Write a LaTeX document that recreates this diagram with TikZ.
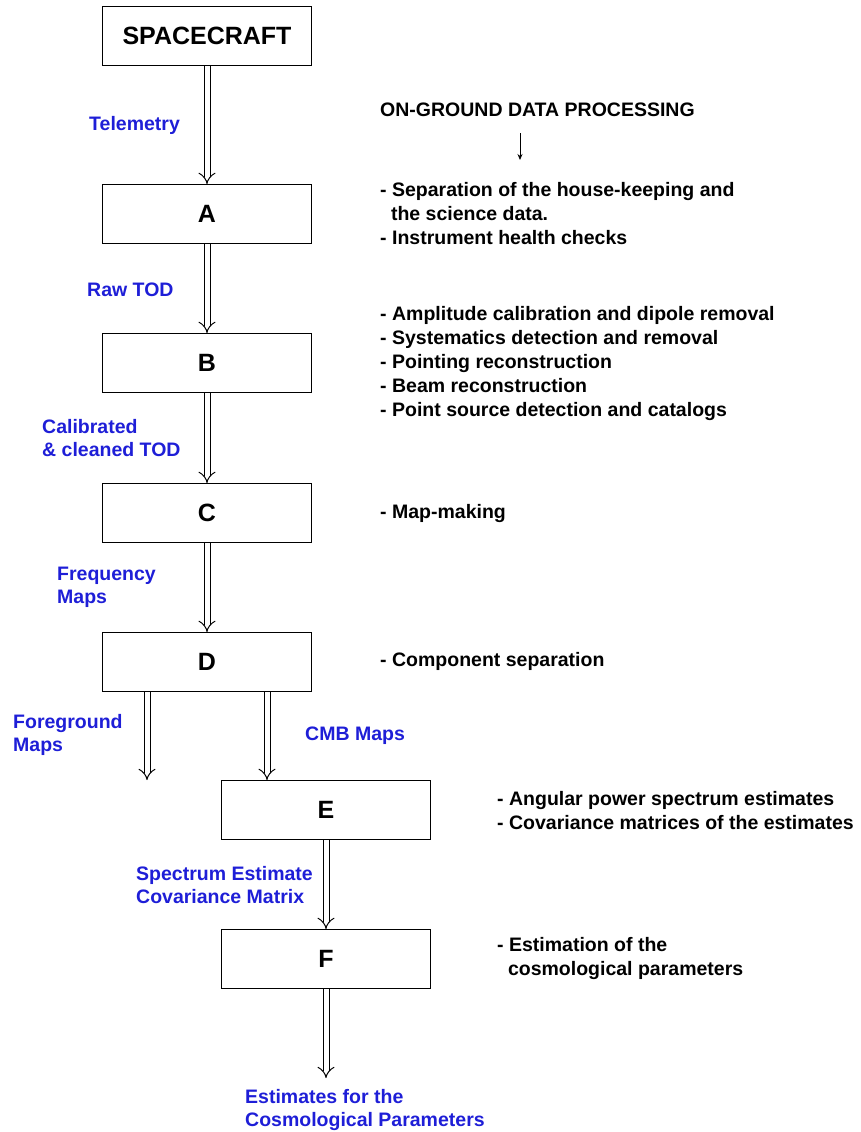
\documentclass[tikz,border=0pt]{standalone}
\usepackage{fontspec}
\setmainfont{Liberation Sans}
\usetikzlibrary{arrows.meta}
\definecolor{lblue}{RGB}{30,30,215}
\tikzset{
  stage/.style={draw, line width=1.1pt, minimum width=209pt, minimum height=59pt, font=\fontsize{25}{29}\selectfont\bfseries},
  flow/.style={draw=black, double=white, double distance=5pt, line width=1pt, -{Implies}},
  datalbl/.style={anchor=west, align=left, text=lblue, inner sep=0pt, font=\fontsize{19.5}{23}\selectfont\bfseries},
  procnote/.style={anchor=west, align=left, inner sep=0pt, font=\fontsize{19.5}{24}\selectfont\bfseries}
}
\begin{document}
\begin{tikzpicture}[x=1pt, y=-1pt]
  \useasboundingbox (0,0) rectangle (860,1132);
  % stages
  \node[stage] (sc) at (207,36) {SPACECRAFT};
  \node[stage] (a) at (207,214) {A};
  \node[stage] (b) at (207,363) {B};
  \node[stage] (c) at (207,513) {C};
  \node[stage] (d) at (207,662) {D};
  \node[stage] (e) at (326,810) {E};
  \node[stage] (f) at (326,959) {F};
  \coordinate (fgend) at (147,780);
  \coordinate (final) at (326,1078);
  % data flow
  \draw[flow] (sc) -- (a);
  \draw[flow] (a) -- (b);
  \draw[flow] (b) -- (c);
  \draw[flow] (c) -- (d);
  \draw[flow] ([xshift=-60pt]d.south) -- (fgend);
  \draw[flow] ([xshift=60pt]d.south) -- ([xshift=60pt]d.south |- e.north);
  \draw[flow] (e) -- (f);
  \draw[flow] (f) -- (final);
  \node[datalbl] (tel) at (89,125) {Telemetry};
  \node[datalbl] (raw) at (87,290) {Raw TOD};
  \node[datalbl] (cal) at (42,438) {Calibrated\\\& cleaned TOD};
  \node[datalbl] (freq) at (57,587) {Frequency\\Maps};
  \node[datalbl] (fg) at (13,735) {Foreground\\Maps};
  \node[datalbl] (cmb) at (305,736) {CMB Maps};
  \node[datalbl] (spec) at (136,885) {Spectrum Estimate\\Covariance Matrix};
  \node[datalbl] (est) at (245,1110) {Estimates for the\\Cosmological Parameters};
  % processing
  \node[procnote] (ground) at (380,110) {ON-GROUND DATA PROCESSING};
  \draw[-{Stealth[length=6pt,width=5pt]}, line width=0.8pt] (520,133) -- (520,160);
  \node[procnote] (pa) at (380,214) {- Separation of the house-keeping and\\\ \ the science data.\\- Instrument health checks};
  \node[procnote] (pb) at (380,363) {- Amplitude calibration and dipole removal\\- Systematics detection and removal\\- Pointing reconstruction\\- Beam reconstruction\\- Point source detection and catalogs};
  \node[procnote] (pc) at (380,513) {- Map-making};
  \node[procnote] (pd) at (380,661) {- Component separation};
  \node[procnote] (pe) at (497,811) {- Angular power spectrum estimates\\- Covariance matrices of the estimates};
  \node[procnote] (pf) at (497,958) {- Estimation of the\\\ \ cosmological parameters};
\end{tikzpicture}
\end{document}
